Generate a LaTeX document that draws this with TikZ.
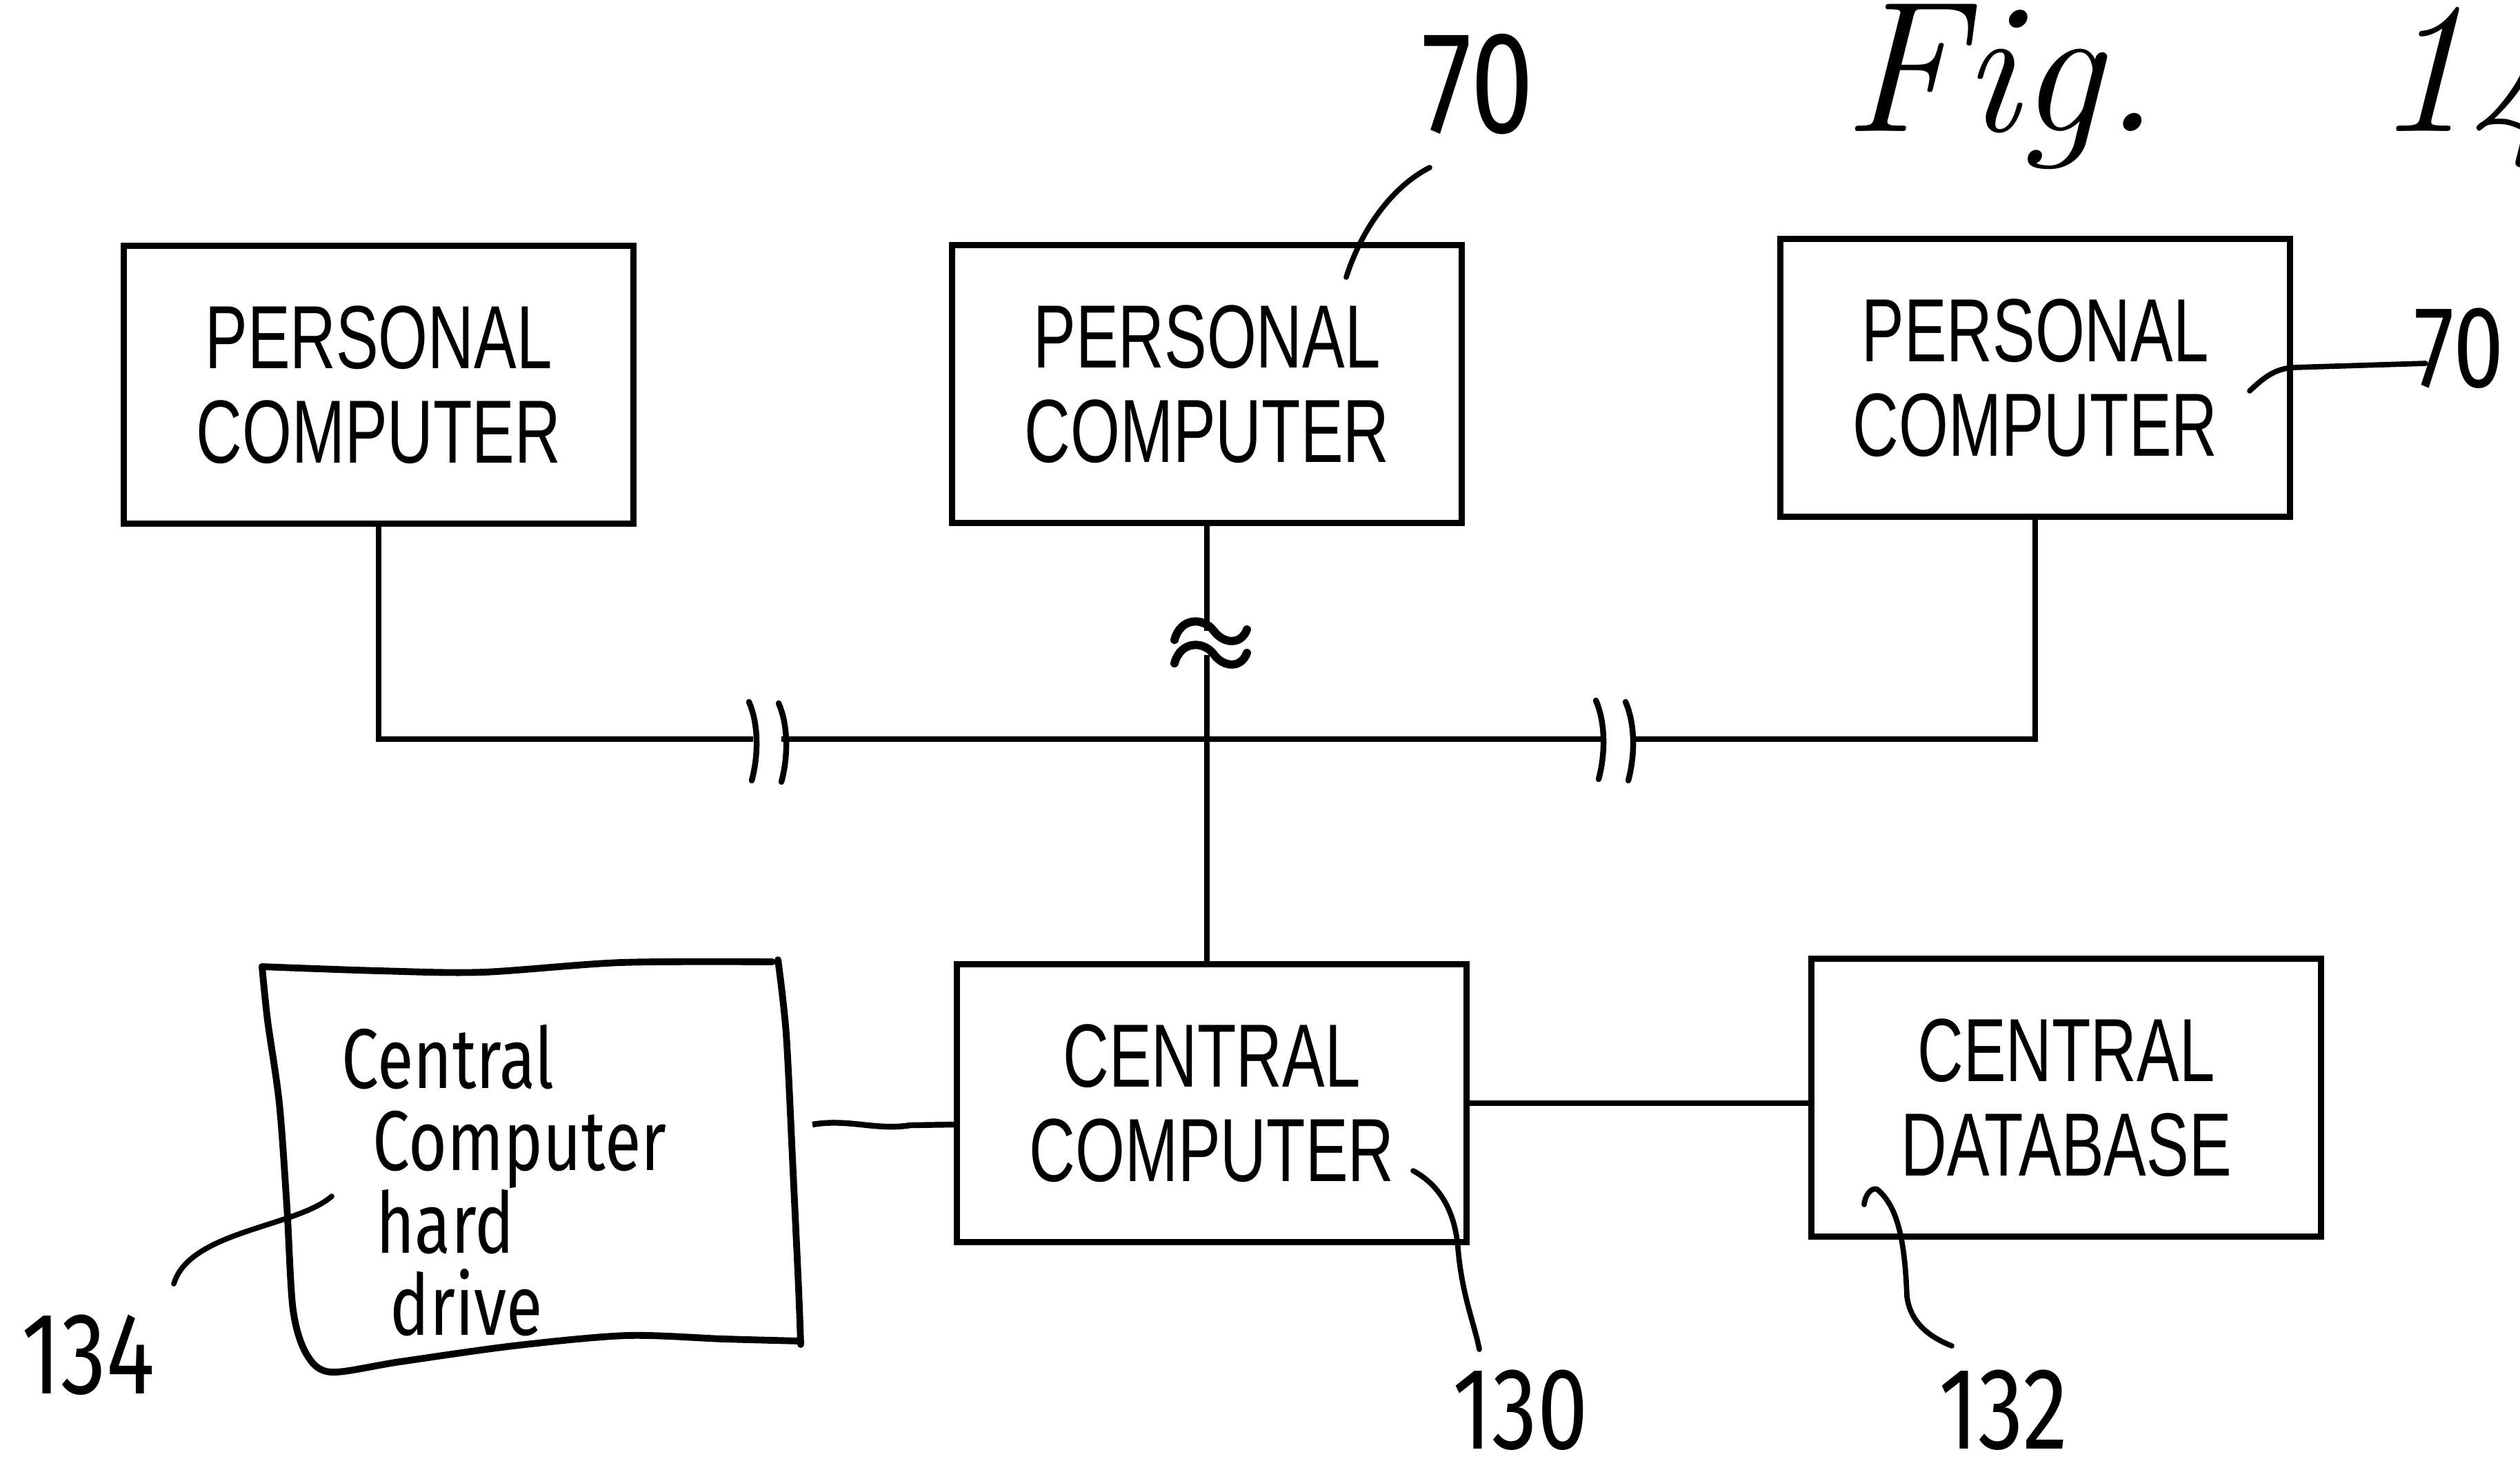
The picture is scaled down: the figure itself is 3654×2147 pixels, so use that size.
\documentclass[tikz,border=0pt]{standalone}
\usepackage{fontspec}
\newfontfamily\boxfont[FakeStretch=0.71]{Liberation Sans}
\newfontfamily\handfont[FakeStretch=0.78]{Fira Sans}
\begin{document}
\begin{tikzpicture}[x=0.01cm,y=-0.01cm,
  pcbox/.style={draw, line width=2.6pt, minimum width=7.38cm, minimum height=4.02cm,
    align=center, inner sep=0pt, font=\boxfont\fontsize{37}{39}\selectfont},
  wire/.style={line width=2.4pt},
  brk/.style={line width=2.4pt, line cap=round},
  tildemark/.style={line width=3.4pt, line cap=round},
  hdline/.style={line width=2.8pt, line cap=round, line join=round},
  leader/.style={line width=2.2pt, line cap=round},
  hdtext/.style={align=left, inner sep=0pt, font=\handfont\fontsize{35}{34}\selectfont},
  numlab/.style={inner sep=0pt, font=\handfont\fontsize{48}{48}\selectfont},
  figtext/.style={inner sep=0pt, font=\fontsize{77}{80}\selectfont\itshape}]
\useasboundingbox (0,0) rectangle (3654,2147);
\clip (0,0) rectangle (3654,2147);

% title
\node[figtext, anchor=base west] (fig) at (2672,190) {Fig.\hspace{1.16em}14};

% boxes
\node[pcbox] (pc1) at (549,558) {PERSONAL\\COMPUTER};
\node[pcbox] (pc2) at (1750,557) {PERSONAL\\COMPUTER};
\node[pcbox] (pc3) at (2951,548) {PERSONAL\\COMPUTER};
\node[pcbox] (cc) at (1757,1600) {CENTRAL\\COMPUTER};
\node[pcbox] (db) at (2996,1592) {CENTRAL\\DATABASE};

% hand-drawn hard drive box
\draw[hdline] plot[smooth, tension=0.5] coordinates {(380,1402) (550,1408) (700,1410) (900,1396) (1120,1395)};
\draw[hdline] plot[smooth, tension=0.5] coordinates {(1128,1392) (1140,1500) (1150,1700) (1158,1870) (1161,1950)};
\draw[hdline] plot[smooth, tension=0.5] coordinates {(1161,1945) (1050,1942) (908,1937) (744,1952) (580,1975) (480,1990) (445,1965) (425,1900) (416,1750) (405,1600) (388,1480) (380,1402)};
\node[hdtext, anchor=north west] (hd) at (495,1485) {Central\\\hspace{0.45cm}Computer\\\hspace{0.5cm}hard\\\hspace{0.7cm}drive};
\coordinate (hdr) at (1178,1631);

% bus
\coordinate (busL) at (pc1.south |- 0,1072);
\coordinate (busR) at (pc3.south |- 0,1072);
\draw[wire] (pc1.south) -- (busL) -- (1092,1072);
\draw[wire] (1133,1072) -- (2322,1072);
\draw[wire] (2365,1072) -- (busR) -- (pc3.south);
\draw[brk] (1086,1018) .. controls (1100,1050) and (1100,1095) .. (1090,1132);
\draw[brk] (1129,1020) .. controls (1143,1052) and (1143,1097) .. (1133,1134);
\draw[brk] (2314,1016) .. controls (2328,1048) and (2328,1093) .. (2318,1130);
\draw[brk] (2357,1018) .. controls (2371,1050) and (2371,1095) .. (2361,1132);

% vertical from middle PC
\draw[wire] (pc2.south) -- (pc2.south |- 0,915);
\draw[wire] (pc2.south |- 0,950) -- (pc2.south |- cc.north);
\draw[tildemark] (1703,928) .. controls (1712,895) and (1745,895) .. (1760,915) .. controls (1775,935) and (1800,935) .. (1808,913);
\draw[tildemark] (1703,962) .. controls (1712,929) and (1745,929) .. (1760,949) .. controls (1775,969) and (1800,969) .. (1808,947);

% other connectors
\draw[wire] (cc.east) -- (db.west |- cc.east);
\draw[wire] (hdr) .. controls (1230,1622) and (1270,1640) .. (1320,1632) -- (cc.west |- hdr);

% reference numerals
\node[numlab, font=\handfont\fontsize{60}{60}\selectfont] (l70a) at (2143,122) {70};
\coordinate (l70aS) at (1952,402);
\coordinate (l70aE) at (2073,243);
\draw[leader] (l70aS) .. controls (1975,330) and (2020,270) .. (l70aE);

\node[numlab, anchor=west] (l70b) at (3500,505) {70};
\coordinate (l70bS) at (3262,567);
\coordinate (l70bE) at (3517,527);
\draw[leader] (l70bS) .. controls (3285,545) and (3300,535) .. (3325,533) -- (l70bE);

\node[numlab] (l130) at (2205,2045) {130};
\coordinate (l130S) at (2049,1698);
\coordinate (l130E) at (2145,1957);
\draw[leader] (l130S) .. controls (2090,1720) and (2110,1760) .. (2114,1810) .. controls (2120,1880) and (2138,1920) .. (l130E);

\node[numlab] (l132) at (2905,2045) {132};
\coordinate (l132S) at (2703,1747);
\coordinate (l132E) at (2830,1952);
\draw[leader] (l132S) .. controls (2705,1730) and (2715,1722) .. (2722,1725) .. controls (2752,1750) and (2762,1800) .. (2765,1880) .. controls (2770,1920) and (2800,1940) .. (l132E);

\node[numlab] (l134) at (128,1965) {134};
\coordinate (l134S) at (481,1735);
\coordinate (l134E) at (252,1862);
\draw[leader] (l134S) .. controls (430,1780) and (275,1785) .. (l134E);
\end{tikzpicture}
\end{document}
